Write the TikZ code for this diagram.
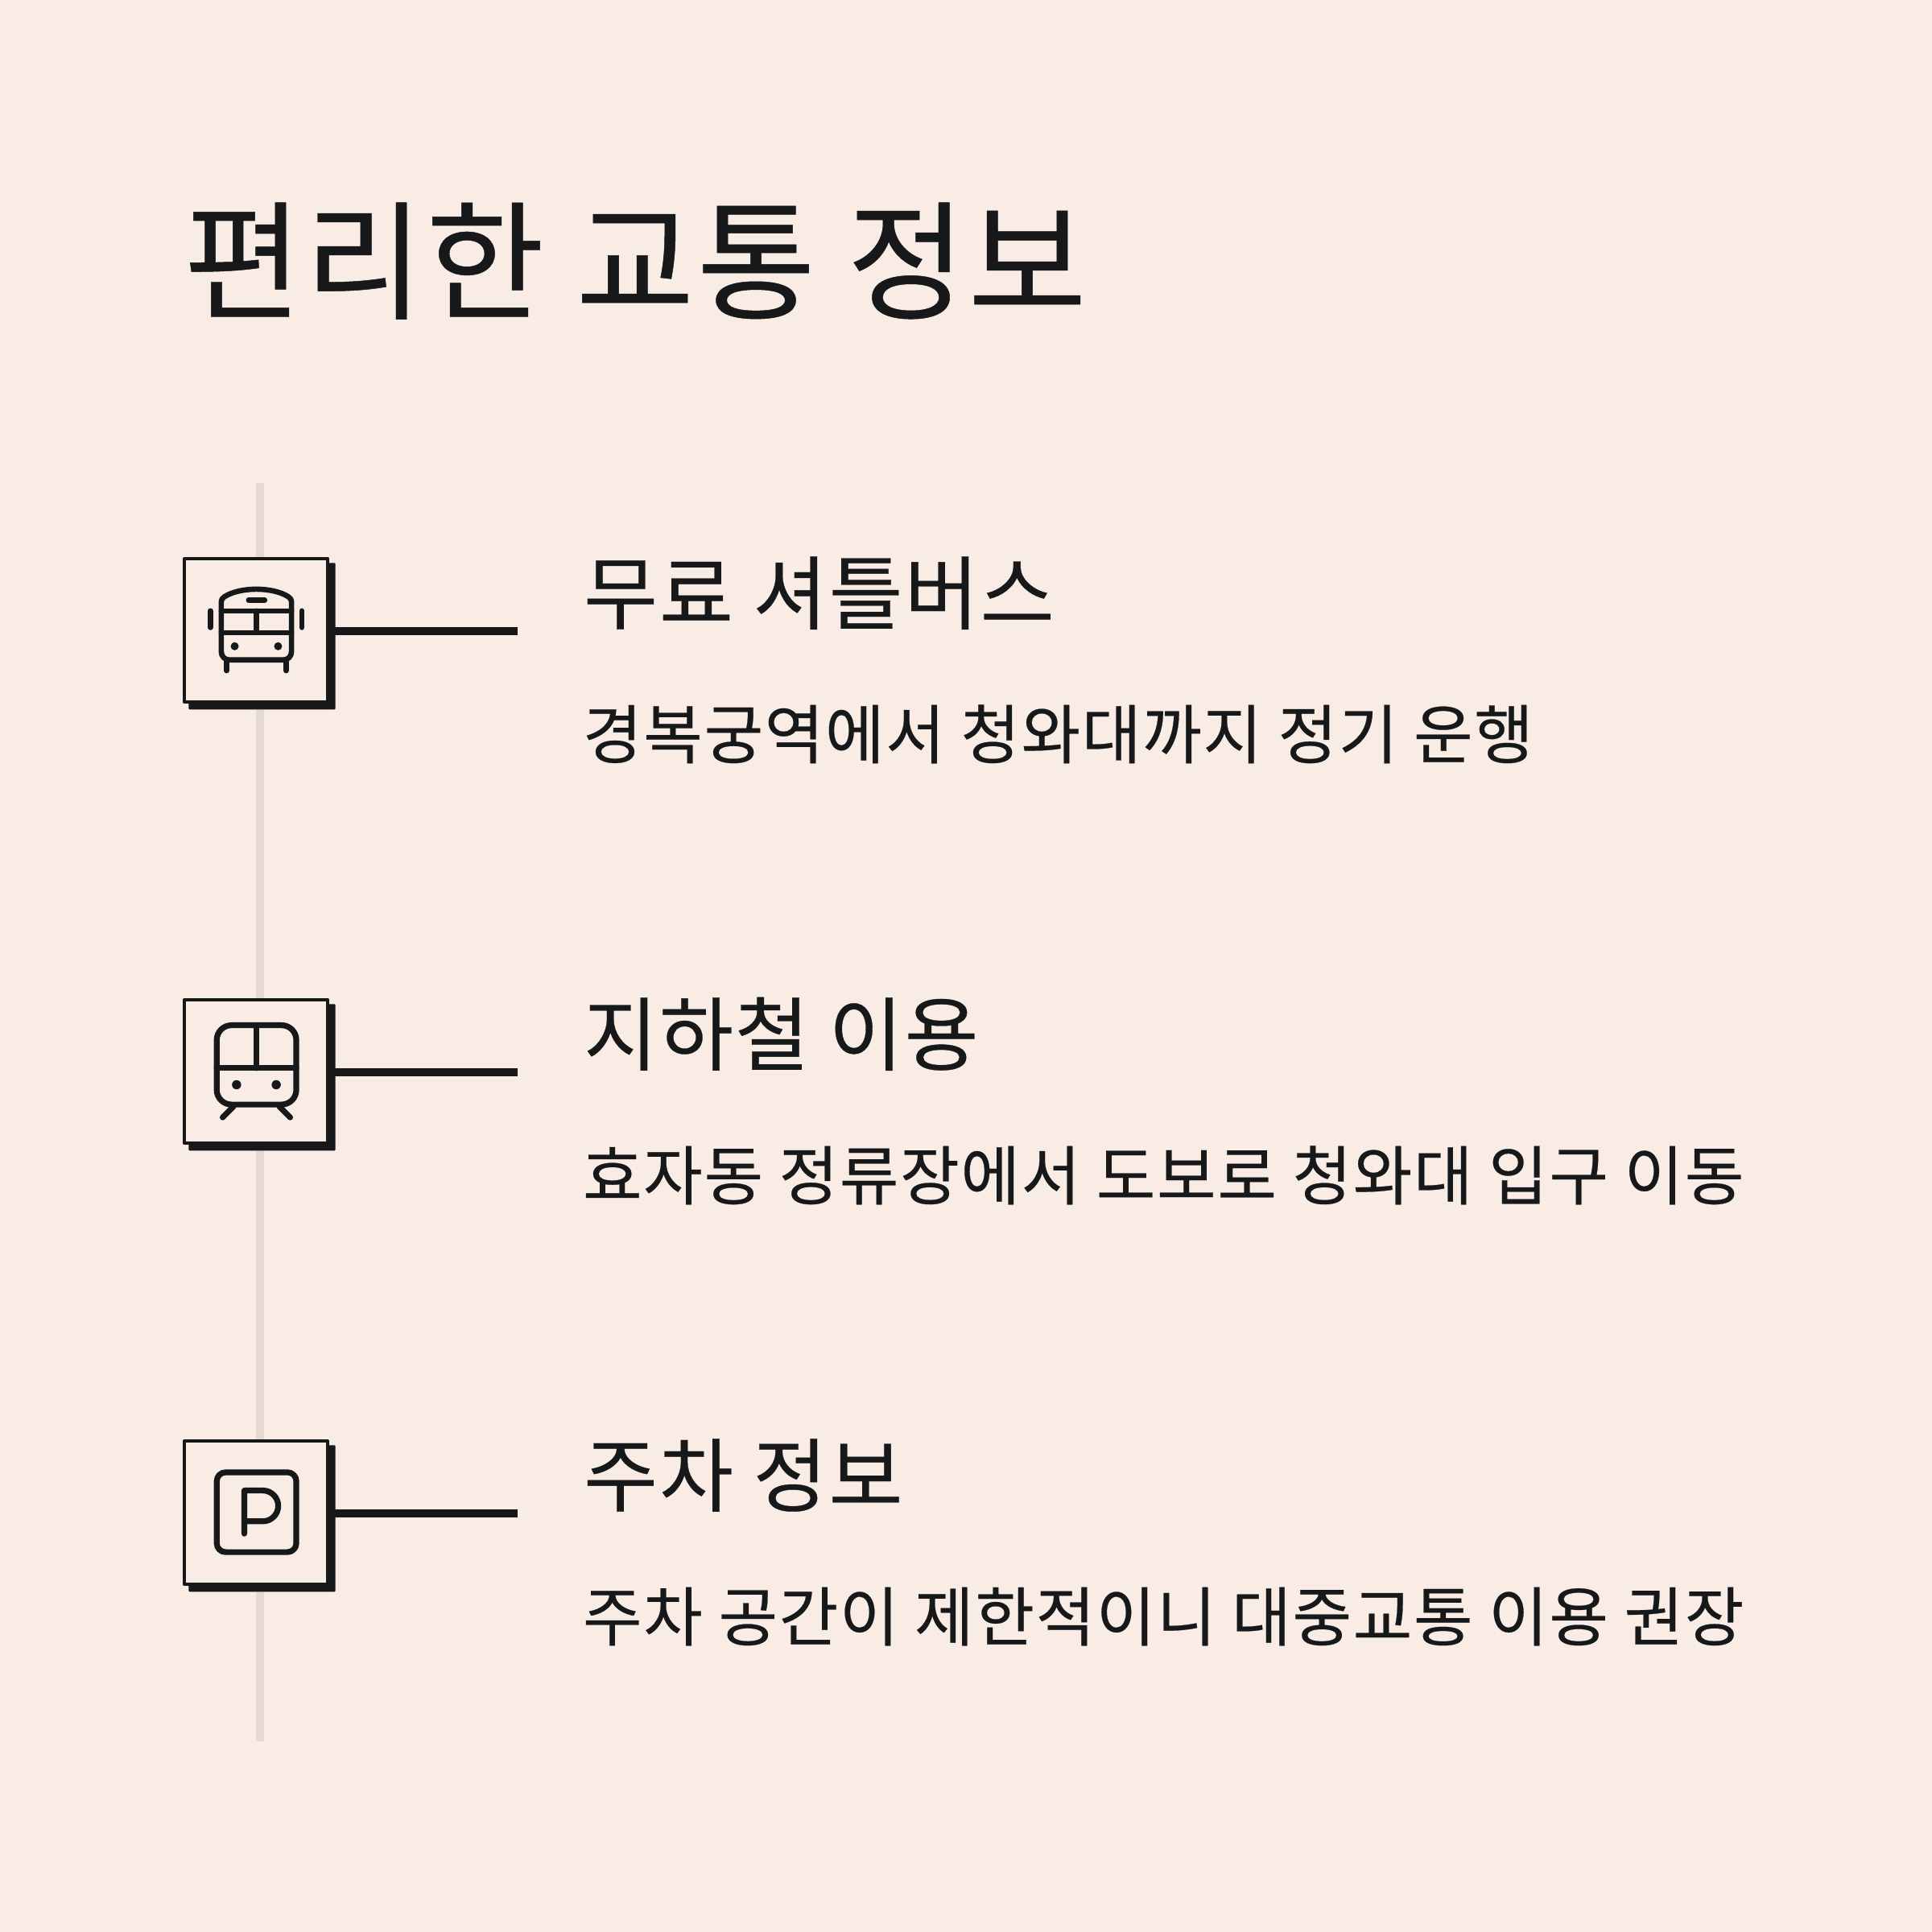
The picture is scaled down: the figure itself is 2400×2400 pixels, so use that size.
\documentclass[tikz,border=0pt]{standalone}
\usepackage{fontspec}
\setmainfont{Noto Sans CJK KR}[LetterSpace=2,FakeBold=0.3]
\definecolor{bgc}{HTML}{F8ECE4}
\definecolor{ink}{HTML}{16181A}
\definecolor{spine}{HTML}{E5DAD2}
\newcommand{\pxfont}[1]{\fontsize{\fpeval{#1*0.28453}pt}{\fpeval{#1*0.34}pt}\selectfont}
\tikzset{
  x=0.01cm,y=-0.01cm,
  cardbox/.style={draw=ink,fill=bgc,line width=0.04cm,minimum size=1.78cm,outer sep=0pt,inner sep=0pt,line join=round},
  cardshadow/.style={fill=ink,minimum size=1.82cm,outer sep=0pt,inner sep=0pt,rounded corners=0.01cm},
  conn/.style={draw=ink,line width=0.1cm},
  spineline/.style={draw=spine,line width=0.1cm},
  ico/.style={draw=ink,line width=0.066cm,line cap=round,line join=round},
  icob/.style={ico,line width=0.072cm},
  icodot/.style={fill=ink},
  titletxt/.style={anchor=base west,inner sep=0pt,outer sep=0pt,text=ink,font=\pxfont{160}},
  headtxt/.style={anchor=base west,inner sep=0pt,outer sep=0pt,text=ink,font=\pxfont{100}},
  subtxt/.style={anchor=base west,inner sep=0pt,outer sep=0pt,text=ink,font=\pxfont{80}},
}
\begin{document}
\begin{tikzpicture}
\fill[bgc] (0,0) rectangle (2400,2400);
\useasboundingbox (0,0) rectangle (2400,2400);
\coordinate (spinetop) at (323,600);
\coordinate (spinebot) at (323,2163);
\draw[spineline] (spinetop) -- (spinebot);
\node[titletxt] (title) at (228,384) {편리한 교통 정보};

% card 1
\node[cardshadow] (s1) at (325.5,790.3) {};
\node[cardbox] (c1) at (318,783) {};
\coordinate (e1) at (643,784);
\draw[conn] (c1.east |- e1) -- (e1);
\node[headtxt] (h1) at (725,774) {무료 셔틀버스};
\node[subtxt] (d1) at (724,942) {경복궁역에서 청와대까지 정기 운행};
\begin{scope}[shift={(210,670)},x=0.00333cm,y=-0.00333cm]
\draw[ico] (195,232) .. controls (195,224) and (200,219) .. (207,214) .. controls (235,196) and (280,186) .. (326,186) .. controls (372,186) and (417,196) .. (445,214) .. controls (452,219) and (457,224) .. (457,232) -- (457,420) arc[start angle=0,end angle=90,radius=30] -- (225,450) arc[start angle=90,end angle=180,radius=30] -- cycle;
\draw[ico] (195,267) -- (457,267) (195,348) -- (457,348) (326,267) -- (326,348);
\draw[ico] (297,227) -- (357,227);
\draw[ico] (154,267) -- (154,329) (496,267) -- (496,329);
\draw[ico] (214,450) -- (214,490) (437,450) -- (437,490);
\fill[icodot] (245,399) circle[radius=0.05cm] (407,399) circle[radius=0.05cm];
\end{scope}

% card 2
\node[cardshadow] (s2) at (325.5,1338.3) {};
\node[cardbox] (c2) at (318,1331) {};
\coordinate (e2) at (643,1332);
\draw[conn] (c2.east |- e2) -- (e2);
\node[headtxt] (h2) at (725,1322) {지하철 이용};
\node[subtxt] (d2) at (724,1490) {효자동 정류장에서 도보로 청와대 입구 이동};
\begin{scope}[shift={(210,1220)},x=0.00333cm,y=-0.00333cm]
\draw[icob,rounded corners=0.183cm] (178,161) rectangle (475,457);
\draw[icob] (178,321) -- (475,321) (326,161) -- (326,321);
\draw[icob] (240,465) -- (200,505) (412,465) -- (452,505);
\fill[icodot] (252,383) circle[radius=0.057cm] (400,383) circle[radius=0.057cm];
\end{scope}

% card 3
\node[cardshadow] (s3) at (325.5,1886.3) {};
\node[cardbox] (c3) at (318,1879) {};
\coordinate (e3) at (643,1880);
\draw[conn] (c3.east |- e3) -- (e3);
\node[headtxt] (h3) at (725,1870) {주차 정보};
\node[subtxt] (d3) at (724,2038) {주차 공간이 제한적이니 대중교통 이용 권장};
\begin{scope}[shift={(210,1770)},x=0.00333cm,y=-0.00333cm]
\draw[icob,rounded corners=0.11cm] (178,177) rectangle (475,475);
\draw[icob] (281,406) -- (281,245) -- (350,245) arc[start angle=-90,end angle=90,radius=57.5] -- (281,360);
\end{scope}
\end{tikzpicture}
\end{document}
